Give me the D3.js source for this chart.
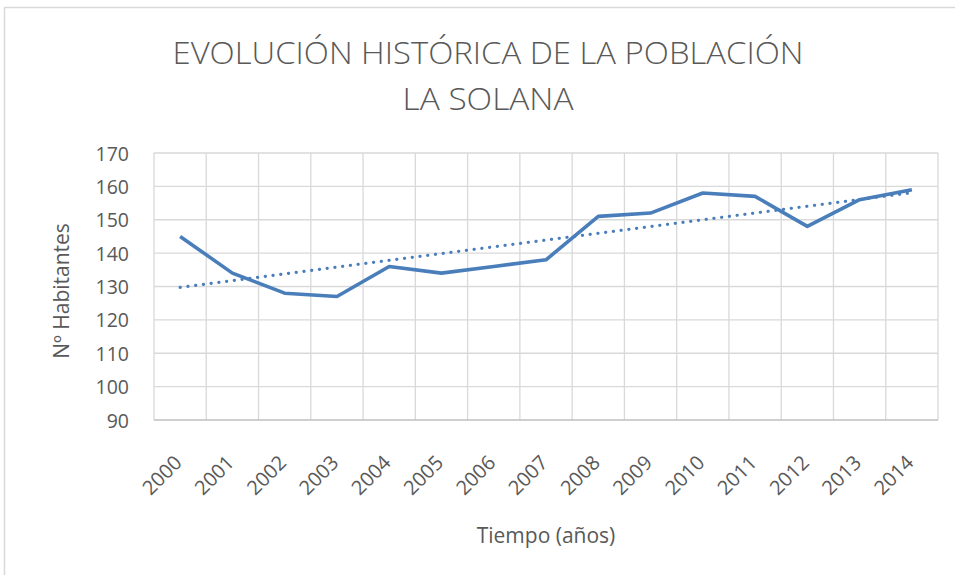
<!DOCTYPE html>
<html>
<head>
<meta charset="utf-8">
<script src="https://cdn.jsdelivr.net/npm/d3@7"></script>
<style>
  body { margin: 0; background: #fff; }
  svg { display: block; font-family: "Open Sans", Lato, sans-serif; }
</style>
</head>
<body>
<svg id="chart" width="955" height="575"></svg>
<script>
// data
const years = ["2000", "2001", "2002", "2003", "2004", "2005", "2006", "2007",
               "2008", "2009", "2010", "2011", "2012", "2013", "2014"];
const habitantes = [145, 134, 128, 127, 136, 134, 136, 138, 151, 152, 158, 157, 148, 156, 159];
const yTicks = [90, 100, 110, 120, 130, 140, 150, 160, 170];
const titleLines = ["EVOLUCIÓN HISTÓRICA DE LA POBLACIÓN", "LA SOLANA"];

const svg = d3.select("#chart");
const width = 955;
const height = 575;
const margin = { top: 153, right: 17, bottom: 155, left: 154 };
const textColor = "#595959";
const lineColor = "#4a7ebb";

// chart border
svg.append("rect")
    .attr("x", 4.5)
    .attr("y", 7.5)
    .attr("width", width + 10)
    .attr("height", height + 10)
    .attr("fill", "#fff")
    .attr("stroke", "#d9d9d9")
    .attr("stroke-width", 1.5);

// scales
const x = d3.scaleBand()
    .domain(years)
    .range([margin.left, width - margin.right]);

const y = d3.scaleLinear()
    .domain([90, 170])
    .range([height - margin.bottom, margin.top]);

const cx = d => x(d) + x.bandwidth() / 2;

// horizontal gridlines
svg.append("g")
    .selectAll("line")
    .data(yTicks.slice(1))
    .join("line")
    .attr("x1", margin.left)
    .attr("x2", width - margin.right)
    .attr("y1", d => y(d))
    .attr("y2", d => y(d))
    .attr("stroke", "#d9d9d9")
    .attr("stroke-width", 1.3);

// vertical gridlines at category edges
svg.append("g")
    .selectAll("line")
    .data(years.map(d => x(d)).concat([width - margin.right]))
    .join("line")
    .attr("x1", d => d)
    .attr("x2", d => d)
    .attr("y1", margin.top)
    .attr("y2", height - margin.bottom)
    .attr("stroke", "#d9d9d9")
    .attr("stroke-width", 1.3);

// x axis line
svg.append("line")
    .attr("x1", margin.left)
    .attr("x2", width - margin.right)
    .attr("y1", y(90))
    .attr("y2", y(90))
    .attr("stroke", "#bfbfbf")
    .attr("stroke-width", 1.5);

// y axis labels
const yAxis = svg.append("g")
    .attr("transform", `translate(${margin.left - 25},0)`)
    .call(d3.axisLeft(y).tickValues(yTicks).tickSize(0).tickPadding(0));
yAxis.select(".domain").remove();
yAxis.selectAll("text")
    .attr("fill", textColor)
    .style("font-family", "'Open Sans', sans-serif")
    .style("font-size", "19.5px")
    .attr("dy", "0.36em");

// x axis labels, rotated
svg.append("g")
    .selectAll("text")
    .data(years)
    .join("text")
    .attr("transform", d => `translate(${cx(d) + 3},${y(90) + 44}) rotate(-45)`)
    .attr("text-anchor", "end")
    .attr("fill", textColor)
    .style("font-size", "20px")
    .text(d => d);

// data line
const line = d3.line()
    .x((d, i) => cx(years[i]))
    .y(d => y(d));

svg.append("path")
    .datum(habitantes)
    .attr("d", line)
    .attr("fill", "none")
    .attr("stroke", lineColor)
    .attr("stroke-width", 3.6)
    .attr("stroke-linejoin", "round");

// linear trendline (least squares over category index)
const n = habitantes.length;
const mx = d3.mean(habitantes, (d, i) => i);
const my = d3.mean(habitantes);
const slope = d3.sum(habitantes, (d, i) => (i - mx) * (d - my)) /
              d3.sum(habitantes, (d, i) => (i - mx) * (i - mx));
const trend = [0, n - 1].map(i => my + slope * (i - mx));

svg.append("line")
    .attr("x1", cx(years[0]))
    .attr("x2", cx(years[n - 1]))
    .attr("y1", y(trend[0]))
    .attr("y2", y(trend[1]))
    .attr("stroke", lineColor)
    .attr("stroke-width", 3.2)
    .attr("stroke-linecap", "round")
    .attr("stroke-dasharray", "0.1 7.7");

// title (Calibri Light in the original, narrowed to the same width)
const titleWidths = [631, 171];
svg.append("g")
    .selectAll("text")
    .data(titleLines)
    .join("text")
    .attr("x", 488)
    .attr("y", (d, i) => 64 + i * 46)
    .attr("text-anchor", "middle")
    .attr("fill", textColor)
    .attr("textLength", (d, i) => titleWidths[i])
    .attr("lengthAdjust", "spacingAndGlyphs")
    .style("font-size", "32px")
    .style("font-weight", 300)
    .text(d => d);

// axis titles
svg.append("text")
    .attr("text-anchor", "middle")
    .attr("transform", "rotate(-90)")
    .attr("x", -291)
    .attr("y", 69)
    .attr("fill", textColor)
    .style("font-size", "21px")
    .text("Nº Habitantes");

svg.append("text")
    .attr("text-anchor", "middle")
    .attr("x", 546)
    .attr("y", 543)
    .attr("fill", textColor)
    .style("font-size", "21px")
    .text("Tiempo (años)");
</script>
</body>
</html>
